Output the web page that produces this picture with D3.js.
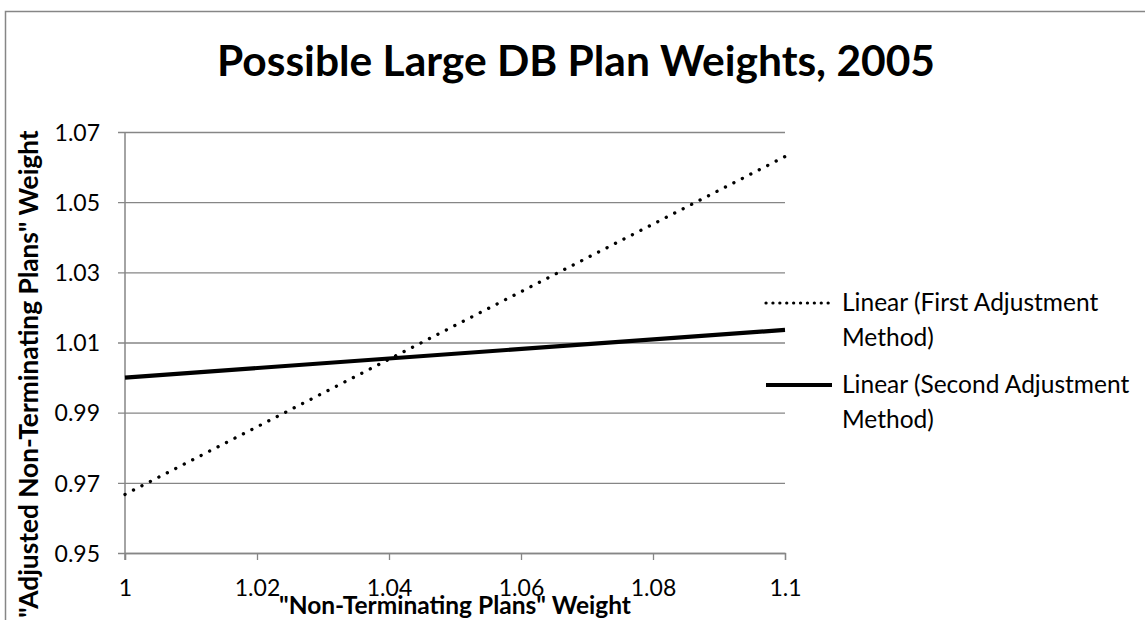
<!DOCTYPE html>
<html><head><meta charset="utf-8">
<script src="https://cdn.jsdelivr.net/npm/d3@7"></script>
<style>body{margin:0;background:#fff}svg{display:block}text{font-family:Lato,"Open Sans",sans-serif}</style>
</head><body>
<svg id="c" width="1145" height="620"></svg>
<script>
const xTicks = [1, 1.02, 1.04, 1.06, 1.08, 1.1];
const yTicks = [0.95, 0.97, 0.99, 1.01, 1.03, 1.05, 1.07];
const xValues = [1, 1.1];
const firstMethod = [0.9667, 1.0630];
const secondMethod = [1.0000, 1.0136];
const seriesNames = ["Linear (First Adjustment Method)", "Linear (Second Adjustment Method)"];

const svg = d3.select("#c");
svg.append("rect").attr("x",5.5).attr("y",11.5).attr("width",1200).attr("height",700)
  .attr("fill","#fff").attr("stroke","#868686").attr("stroke-width",1.5);

const x = d3.scaleLinear().domain([1,1.1]).range([125,785]);
const y = d3.scaleLinear().domain([0.95,1.07]).range([553,132]);

const ya = svg.append("g").attr("transform","translate(125,0)")
  .call(d3.axisLeft(y).tickValues(yTicks).tickSize(7).tickPadding(18).tickFormat(d3.format(".2f")));
ya.select(".domain").remove();
ya.selectAll(".tick line").attr("stroke","#868686").attr("x2",660).attr("x1",-7).attr("stroke-width",1.3);
ya.selectAll(".tick text").attr("font-size",23).attr("fill","#000").attr("dy","0.36em");

const xa = svg.append("g").attr("transform","translate(0,553)")
  .call(d3.axisBottom(x).tickValues(xTicks).tickSize(7).tickPadding(10).tickFormat(d=>String(+d.toFixed(2))));
xa.select(".domain").attr("stroke","#868686").attr("stroke-width",1.3);
xa.selectAll(".tick line").attr("stroke","#868686").attr("stroke-width",1.3);
xa.selectAll(".tick text").attr("font-size",23).attr("fill","#000").attr("y",43).attr("dy",0);
svg.append("line").attr("x1",125).attr("x2",125).attr("y1",132).attr("y2",560)
  .attr("stroke","#868686").attr("stroke-width",1.5);

const line = d3.line().x(d=>x(d[0])).y(d=>y(d[1]));
svg.append("path").datum(xValues.map((v,i)=>[v,firstMethod[i]])).attr("d",line)
  .attr("fill","none").attr("stroke","#000").attr("stroke-width",3.3)
  .attr("stroke-linecap","round").attr("stroke-dasharray","0.1 9.4");
svg.append("path").datum(xValues.map((v,i)=>[v,secondMethod[i]])).attr("d",line)
  .attr("fill","none").attr("stroke","#000").attr("stroke-width",4.2);

svg.append("text").attr("x",576).attr("y",76).attr("text-anchor","middle")
  .attr("font-size",42.5).attr("font-weight","bold").text("Possible Large DB Plan Weights, 2005");

svg.append("text").attr("x",455).attr("y",614).attr("text-anchor","middle")
  .attr("font-size",24.5).attr("font-weight","bold").text('"Non-Terminating Plans" Weight');
svg.append("text").attr("transform","translate(38,374) rotate(-90)").attr("text-anchor","middle")
  .attr("font-size",26.3).attr("font-weight","bold").text('"Adjusted Non-Terminating Plans" Weight');

const leg = [{y:303, dash:"0.1 6.8", w:3.2, name:seriesNames[0]},{y:385, dash:null, w:4.2, name:seriesNames[1]}];
leg.forEach(l=>{
  const ln = svg.append("line").attr("x1",766).attr("x2",832).attr("y1",l.y).attr("y2",l.y)
    .attr("stroke","#000").attr("stroke-width",l.w);
  if(l.dash) ln.attr("stroke-dasharray",l.dash).attr("stroke-linecap","round");
  const parts = l.name.match(/^(.*) (Method\))$/);
  const t = svg.append("text").attr("x",842).attr("y",l.y+8).attr("font-size",24.5);
  t.append("tspan").attr("x",842).text(parts[1]);
  t.append("tspan").attr("x",842).attr("dy",35).text(parts[2]);
});
</script>
</body></html>
